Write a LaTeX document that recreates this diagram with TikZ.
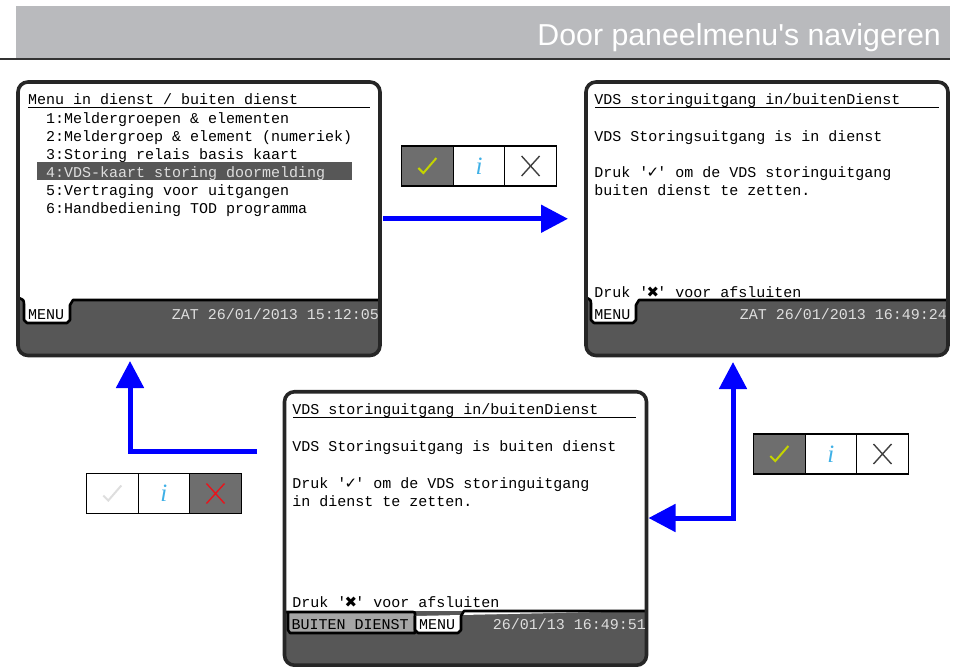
\documentclass[tikz,border=0pt]{standalone}
\usepackage{fontspec}
\setmonofont{Liberation Mono}
\newfontfamily\kopfont{Liberation Sans}
\newfontfamily\symfont{DejaVu Sans}
\newfontfamily\infofont{Liberation Serif}
\usetikzlibrary{positioning,arrows.meta}
\definecolor{kopgrijs}{HTML}{B9BABD}
\definecolor{scrdark}{HTML}{575757}
\definecolor{celgrijs}{HTML}{6E6E6E}
\definecolor{tabgrijs}{HTML}{A6A6A6}
\definecolor{vinkgroen}{HTML}{C4D400}
\definecolor{infoblauw}{HTML}{3FB0E6}
\definecolor{kruisrood}{HTML}{E8141C}
\begin{document}
\begin{tikzpicture}[x=1pt,y=-1pt,
    screen/.style={fill=white,inner sep=0,outer sep=0,minimum width=362pt,minimum height=273.5pt},
    scrrim/.style={draw=black!85,line width=3.6pt,rounded corners=10pt},
    scrtext/.style={font=\ttfamily\fontsize{15}{15}\selectfont,anchor=base west,inner sep=0},
    datetext/.style={scrtext,anchor=base east,text=black!13},
    tabrim/.style={draw=black,line width=2.6pt,line join=round},
    titlerule/.style={line width=0.8pt},
    flowarrow/.style={draw=blue,line width=5pt,-{Triangle[length=27pt,width=27pt,fill=blue]}},
    btncell/.style={draw=black,line width=1.2pt,inner sep=0,outer sep=0,minimum width=51.6pt,minimum height=40pt},
    chkicon/.style={path picture={\draw[#1,line width=2pt]
        ([shift={(-9pt,-2pt)}]path picture bounding box.center) --
        ([shift={(-4pt,-7pt)}]path picture bounding box.center) --
        ([shift={(9pt,8pt)}]path picture bounding box.center);}},
    xicon/.style={path picture={\draw[#1,line width=1.4pt]
        ([shift={(-9pt,-10pt)}]path picture bounding box.center) --
        ([shift={(9pt,10pt)}]path picture bounding box.center)
        ([shift={(-9pt,10pt)}]path picture bounding box.center) --
        ([shift={(9pt,-10pt)}]path picture bounding box.center);}},
    infoicon/.style={text=infoblauw,font=\infofont\itshape\fontsize{25}{25}\selectfont},
    node distance=0pt]
    \useasboundingbox (0,0) rectangle (959,667);
    \def \vink {\makebox[9pt]{\symfont\fontsize{15}{15}\selectfont ✓}};
    \def \kruis {\makebox[9pt]{\symfont\fontsize{15}{15}\selectfont ✖}};

    % kop
    \fill [kopgrijs] (16,6) rectangle (950,58);
    \draw [line width=2pt,black!80] (0,59) -- (950,59);
    \node [anchor=base east,inner sep=0,text=white,font=\kopfont\fontsize{30.3}{31}\selectfont] (kop) at (941,45) {Door paneelmenu's navigeren};

    % scherm menu
    \node [screen] (menuscreen) at (199,218.75) {};
    \fill [scrdark] (18,300) [rounded corners=9pt] -- (18,355.5) -- (380,355.5) [sharp corners] -- (380,300) -- cycle;
    \draw [tabrim,fill=white] (19,298) .. controls (24,300) .. (24,306) -- (24,320) -- (27,323) -- (67,323) -- (70,320) -- (70,305) -- (73,300) -- (380,300);
    \draw [scrrim] (menuscreen.north west) rectangle (menuscreen.south east);
    \node [scrtext] (menutitel) at (28,104) {Menu in dienst / buiten dienst};
    \draw [titlerule] (28,107) -- (370,107);
    \fill [scrdark] (37,162) rectangle (352,180);
    \foreach \i/\regel in {1/{1:Meldergroepen \& elementen},2/{2:Meldergroep \& element (numeriek)},3/{3:Storing relais basis kaart},5/{5:Vertraging voor uitgangen},6/{6:Handbediening TOD programma}}
        \node [scrtext] (menu\i) at (46,105+18*\i) {\regel};
    \node [scrtext,text=black!13] (menu4) at (46,177) {4:VDS-kaart storing doormelding};
    \node [scrtext] (menutab) at (28,319) {MENU};
    \node [datetext] (menudatum) at (379,319) {ZAT 26/01/2013 15:12:05};

    % scherm in dienst
    \node [screen] (dienstscreen) at (767,218.75) {};
    \fill [scrdark] (586,300) [rounded corners=9pt] -- (586,355.5) -- (948,355.5) [sharp corners] -- (948,300) -- cycle;
    \draw [tabrim,fill=white] (587,298) .. controls (591,300) .. (591,306) -- (591,320) -- (594,323) -- (633,323) -- (636,320) -- (636,305) -- (639,300) -- (948,300);
    \draw [scrrim] (dienstscreen.north west) rectangle (dienstscreen.south east);
    \node [scrtext] (dienstt) at (594.2,104) {VDS storinguitgang in/buitenDienst};
    \draw [titlerule] (595,107) -- (939,107);
    \node [scrtext] (dienst1) at (594.2,141) {VDS Storingsuitgang is in dienst};
    \node [scrtext] (dienst2) at (594.2,177) {Druk '\vink' om de VDS storinguitgang};
    \node [scrtext] (dienst3) at (594.2,195) {buiten dienst te zetten.};
    \node [scrtext] (dienst4) at (594.2,297) {Druk '\kruis' voor afsluiten};
    \node [scrtext] (diensttab) at (594.2,319) {MENU};
    \node [datetext] (dienstdatum) at (947,319) {ZAT 26/01/2013 16:49:24};

    % scherm buiten dienst
    \node [screen] (buitenscreen) at (465.5,528.5) {};
    \fill [scrdark] (284,611) [rounded corners=9pt] -- (284,665) -- (647,665) [sharp corners] -- (647,611) -- cycle;
    \draw [tabrim,fill=tabgrijs] (285,612) -- (413,612) .. controls (415,612) .. (415,616) -- (415,633) -- (290,633) -- (288,630) -- (288,612);
    \draw [tabrim,fill=white] (415,616) -- (415,630) -- (418,633) -- (458,633) -- (461,630) -- (461,616) -- (464,611) -- (647,611);
    \draw [scrrim] (buitenscreen.north west) rectangle (buitenscreen.south east);
    \node [scrtext] (buitent) at (292.2,414) {VDS storinguitgang in/buitenDienst};
    \draw [titlerule] (293,417) -- (636,417);
    \node [scrtext] (buiten1) at (292.2,451) {VDS Storingsuitgang is buiten dienst};
    \node [scrtext] (buiten2) at (292.2,488) {Druk '\vink' om de VDS storinguitgang};
    \node [scrtext] (buiten3) at (292.2,506) {in dienst te zetten.};
    \node [scrtext] (buiten4) at (292.2,607) {Druk '\kruis' voor afsluiten};
    \node [scrtext] (buitentab) at (291.5,629) {BUITEN DIENST};
    \node [scrtext] (buitenmenu) at (419,629) {MENU};
    \node [datetext] (buitendatum) at (646,629) {26/01/13 16:49:51};

    % knoppen
    \node [btncell,fill=celgrijs,chkicon=vinkgroen] (okbtna) at (427.4,166) {};
    \node [btncell,infoicon,right=of okbtna] (infobtna) {i};
    \node [btncell,xicon=black!75,right=of infobtna] (exitbtna) {};

    \node [btncell,chkicon=black!13] (okbtnb) at (112.3,493.5) {};
    \node [btncell,infoicon,right=of okbtnb] (infobtnb) {i};
    \node [btncell,fill=celgrijs,xicon=kruisrood,right=of infobtnb] (exitbtnb) {};

    \node [btncell,fill=celgrijs,chkicon=vinkgroen] (okbtnc) at (779.3,454) {};
    \node [btncell,infoicon,right=of okbtnc] (infobtnc) {i};
    \node [btncell,xicon=black!75,right=of infobtnc] (exitbtnc) {};

    % pijlen
    \coordinate (terugstart) at (257,451);
    \draw [flowarrow,shorten <=3pt,shorten >=18pt] (menuscreen.east) -- (dienstscreen.west);
    \draw [flowarrow,shorten >=5.5pt] (terugstart) -| ([xshift=-69pt]menuscreen.south);
    \draw [flowarrow,{Triangle[length=27pt,width=27pt,fill=blue]}-{Triangle[length=27pt,width=27pt,fill=blue]},shorten <=6.5pt,shorten >=2pt] ([xshift=-34pt]dienstscreen.south) |- ([yshift=10.5pt]buitenscreen.east);
\end{tikzpicture}
\end{document}
